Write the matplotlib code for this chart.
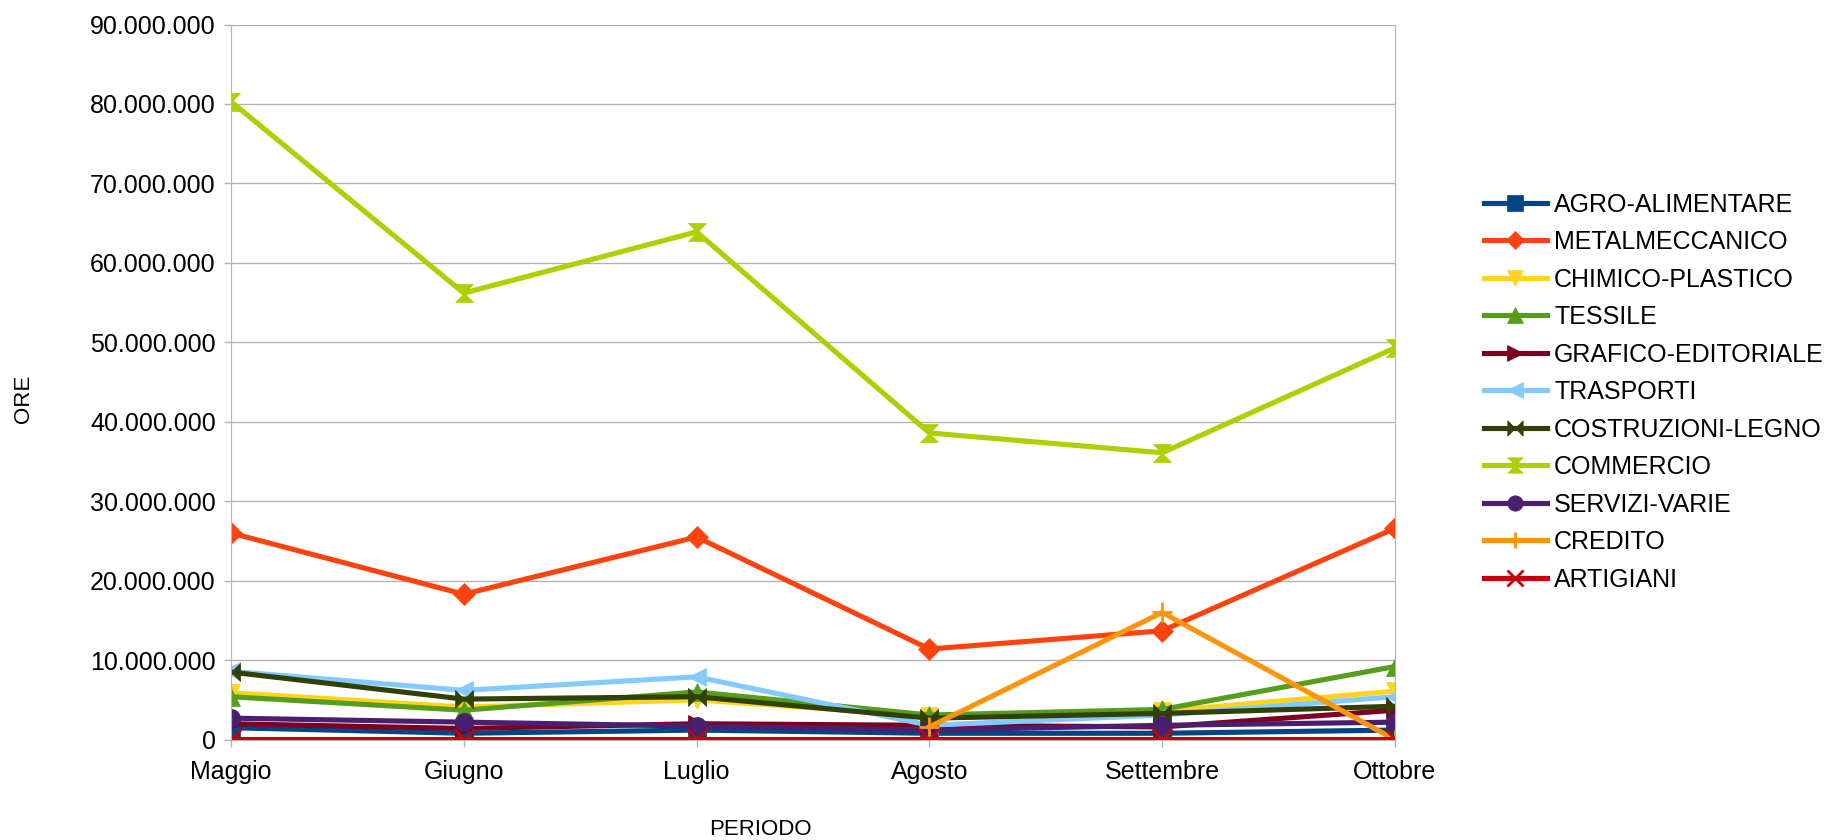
import numpy as np
import matplotlib
matplotlib.use("Agg")
import matplotlib.pyplot as plt
from matplotlib.path import Path
from matplotlib.ticker import FuncFormatter

plt.rcParams["font.family"] = ["Liberation Sans", "DejaVu Sans"]

periods = ["Maggio", "Giugno", "Luglio", "Agosto", "Settembre", "Ottobre"]

agro = [1.5e6, 0.8e6, 1.2e6, 0.8e6, 0.8e6, 1.2e6]
metal = [26.0e6, 18.3e6, 25.5e6, 11.4e6, 13.7e6, 26.6e6]
chimico = [5.9e6, 4.1e6, 5.0e6, 3.0e6, 3.6e6, 6.1e6]
tessile = [5.4e6, 3.7e6, 6.0e6, 3.1e6, 3.8e6, 9.2e6]
grafico = [2.0e6, 1.4e6, 2.0e6, 1.8e6, 1.6e6, 3.7e6]
trasporti = [8.6e6, 6.2e6, 7.9e6, 1.8e6, 3.1e6, 5.4e6]
costruzioni = [8.5e6, 5.1e6, 5.4e6, 2.7e6, 3.3e6, 4.2e6]
commercio = [80.3e6, 56.2e6, 63.9e6, 38.6e6, 36.1e6, 49.3e6]
servizi = [2.7e6, 2.2e6, 1.7e6, 1.2e6, 1.8e6, 2.2e6]
credito = [np.nan, np.nan, np.nan, 1.6e6, 16.0e6, 0.0]
artigiani = [0.1e6, 0.1e6, 0.1e6, 0.1e6, 0.1e6, 0.1e6]

bowtie = Path([(-1, -1), (1, 1), (1, -1), (-1, 1), (-1, -1)],
              [Path.MOVETO, Path.LINETO, Path.LINETO, Path.LINETO, Path.CLOSEPOLY])
hourglass = Path([(-1, 1), (1, 1), (-1, -1), (1, -1), (-1, 1)],
                 [Path.MOVETO, Path.LINETO, Path.LINETO, Path.LINETO, Path.CLOSEPOLY])

series = [
    ("AGRO-ALIMENTARE", agro, "#004586", "s"),
    ("METALMECCANICO", metal, "#ff420e", "D"),
    ("CHIMICO-PLASTICO", chimico, "#ffd320", "v"),
    ("TESSILE", tessile, "#579d1c", "^"),
    ("GRAFICO-EDITORIALE", grafico, "#7e0021", ">"),
    ("TRASPORTI", trasporti, "#83caff", "<"),
    ("COSTRUZIONI-LEGNO", costruzioni, "#314004", bowtie),
    ("COMMERCIO", commercio, "#aecf00", hourglass),
    ("SERVIZI-VARIE", servizi, "#4b1f6f", "o"),
    ("CREDITO", credito, "#ff950e", "+"),
    ("ARTIGIANI", artigiani, "#c5000b", "x"),
]

fig = plt.figure(figsize=(18.29, 8.40), dpi=100)
ax = fig.add_axes([0.1263, 0.1195, 0.6364, 0.8513])

x = np.arange(len(periods))
for name, vals, color, mk in series:
    ms = 13
    mew = 0.5
    if mk in ("+", "x"):
        mew = 2
        ms = 14
    elif mk == "D":
        ms = 11
    ax.plot(x, vals, color=color, lw=3.7, marker=mk, markersize=ms,
            markeredgewidth=mew, markeredgecolor=color, label=name)

ax.set_xlim(0, len(periods) - 1)
ax.set_ylim(0, 90e6)
ax.set_yticks(np.arange(0, 90e6 + 1, 10e6))
ax.yaxis.set_major_formatter(FuncFormatter(lambda v, p: f"{int(v):,}".replace(",", ".")))
ax.set_xticks(x)
ax.set_xticklabels(periods)
ax.grid(axis="y", color="#b3b3b3", lw=1)
ax.set_axisbelow(True)
for s in ax.spines.values():
    s.set_color("#b3b3b3")
ax.tick_params(colors="#b3b3b3", labelcolor="black", labelsize=18, length=5, width=1)
ax.tick_params(axis="y", pad=6)
ax.tick_params(axis="x", pad=10)

fig.text(0.0128, 0.525, "ORE", rotation=90, ha="center", va="center", fontsize=16)
fig.text(0.4158, 0.0125, "PERIODO", ha="center", va="center", fontsize=16)

ax.legend(loc="center left", bbox_to_anchor=(1.0765, 0.486), frameon=False, fontsize=18,
          handlelength=2.5, handletextpad=0.3, labelspacing=0.54, borderaxespad=0,
          borderpad=0, markerscale=0.85)

fig.savefig("out.png", dpi=100)
